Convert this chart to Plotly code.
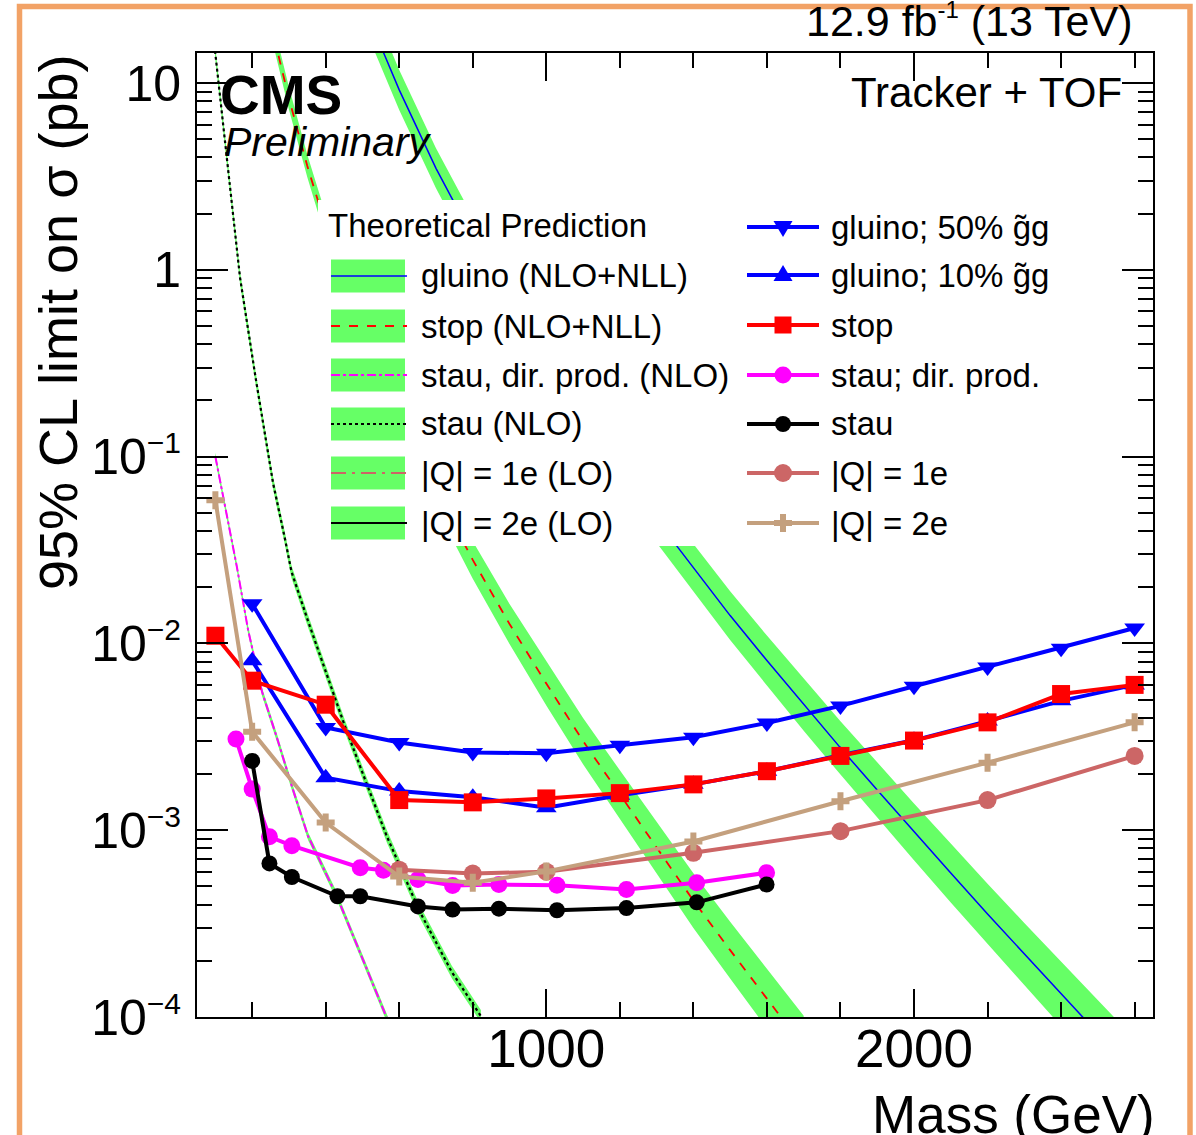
import plotly.graph_objects as go

# ---------------- data ----------------
# theory curves
gluino_th_m = [500, 600, 700, 800, 900, 1000, 1100, 1200, 1300, 1400, 1500, 1600, 1700,
               1800, 1900, 2000, 2100, 2200, 2300, 2400, 2500, 2600]
gluino_th_xs = [27.0, 9.2, 3.5, 1.49, 0.68, 0.325, 0.163, 0.0856, 0.046, 0.0253, 0.0141,
                0.0081, 0.0047, 0.00276, 0.00164, 0.00098, 0.00059, 0.000356, 0.000217,
                0.000133, 0.0000815, 0.00005]
gluino_th_unc = [0.28, 0.28, 0.28, 0.29, 0.29, 0.30, 0.31, 0.32, 0.33, 0.34, 0.35, 0.36,
                 0.38, 0.39, 0.41, 0.42, 0.44, 0.45, 0.47, 0.49, 0.51, 0.53]

stop_th_m = [200, 250, 300, 350, 400, 450, 500, 600, 700, 800, 900, 1000, 1100, 1200,
             1300, 1400, 1500, 1600, 1700]
stop_th_xs = [64.0, 21.0, 8.3, 3.6, 1.72, 0.90, 0.50, 0.172, 0.066, 0.028, 0.0127, 0.0061,
              0.0030, 0.00155, 0.00080, 0.00042, 0.000228, 0.000125, 0.000069]
stop_th_unc = [0.14, 0.14, 0.15, 0.15, 0.16, 0.17, 0.18, 0.20, 0.23, 0.26, 0.28, 0.31, 0.33,
               0.35, 0.38, 0.40, 0.42, 0.45, 0.47]

staudir_th_m = [100, 130, 158, 189, 227, 268, 308, 352, 431, 496, 561, 600]
staudir_th_xs = [0.100, 0.051, 0.026, 0.0118, 0.0055, 0.0031, 0.00172, 0.00093, 0.00044,
                 0.000215, 0.000105, 0.000068]
staudir_th_unc = [0.05] * 12

stau_th_m = [99, 118, 140, 167, 210, 257, 289, 307, 353, 407, 452, 507, 566, 656, 743, 822]
stau_th_xs = [14.9, 6.8, 2.8, 0.91, 0.26, 0.072, 0.0365, 0.0242, 0.0130, 0.00645, 0.00362,
              0.00187, 0.00093, 0.000366, 0.000174, 0.000101]
stau_th_unc = [0.08] * 16

# observed limits
gluino50_m = [200, 400, 600, 800, 1000, 1200, 1400, 1600, 1800, 2000, 2200, 2400, 2600]
gluino50_lim = [0.0163, 0.00355, 0.00295, 0.00261, 0.00258, 0.00285, 0.00315, 0.00375,
                0.00463, 0.0059, 0.00747, 0.00944, 0.0121]

gluino10_m = [200, 400, 600, 800, 1000, 1200, 1400, 1600, 1800, 2000, 2200, 2400, 2600]
gluino10_lim = [0.00809, 0.00191, 0.00162, 0.00150, 0.00132, 0.00154, 0.00176, 0.00207,
                0.00252, 0.00303, 0.00384, 0.00493, 0.0060]

stop_m = [100, 200, 400, 600, 800, 1000, 1200, 1400, 1600, 1800, 2000, 2200, 2400, 2600]
stop_lim = [0.0110, 0.00632, 0.00470, 0.00145, 0.00141, 0.00148, 0.00158, 0.00176, 0.00207,
            0.00250, 0.00302, 0.00378, 0.00536, 0.0060]

staudir_m = [156, 200, 247, 308, 494, 557, 651, 745, 871, 1029, 1218, 1409, 1599]
staudir_lim = [0.00308, 0.00166, 0.000922, 0.000827, 0.000630, 0.000611, 0.000545,
               0.000506, 0.000512, 0.000508, 0.000481, 0.000523, 0.000592]

stau_m = [200, 247, 308, 432, 494, 651, 745, 871, 1029, 1218, 1409, 1599]
stau_lim = [0.00235, 0.000664, 0.000562, 0.000443, 0.000443, 0.000391, 0.000376, 0.000380,
            0.000373, 0.000383, 0.000411, 0.000512]

q1_m = [600, 800, 1000, 1400, 1800, 2200, 2600]
q1_lim = [0.000615, 0.000586, 0.000600, 0.000757, 0.000989, 0.00145, 0.00250]

q2_m = [100, 200, 400, 600, 800, 1000, 1400, 1800, 2200, 2600]
q2_lim = [0.0585, 0.00337, 0.00110, 0.000565, 0.000523, 0.000602, 0.000871, 0.00143,
          0.00230, 0.00378]

x_major = [1000, 2000]
x_minor = [200, 400, 600, 800, 1200, 1400, 1600, 1800, 2200, 2400, 2600]
y_major = [1e-4, 1e-3, 1e-2, 1e-1, 1, 10]
y_labels = ["10<sup><span style='font-size:30px'>\u22124</span></sup>",
            "10<sup><span style='font-size:30px'>\u22123</span></sup>",
            "10<sup><span style='font-size:30px'>\u22122</span></sup>",
            "10<sup><span style='font-size:30px'>\u22121</span></sup>",
            "1", "10"]

# ---------------- styling ----------------
FONT = "Liberation Sans, Arial, Helvetica, sans-serif"
GREEN = "#66FF66"
BLUE = "#0000FF"
RED = "#FF0000"
MAGENTA = "#FF00FF"
ROSE = "#CC6666"
TAN = "#C4A07E"
ORANGE = "#F2A266"

W, H = 1196, 1135
L, R, T, B = 197, 1153, 53, 1017


def px(x):
    return (x - L) / (R - L)


def py(y):
    return (B - y) / (B - T)


fig = go.Figure()


def add_theory(m, xs, unc, color, dash, width):
    up = [v * (1 + u) for v, u in zip(xs, unc)]
    dn = [v / (1 + u) for v, u in zip(xs, unc)]
    fig.add_trace(go.Scatter(x=m, y=dn, mode="lines", line=dict(width=0, color=GREEN),
                             showlegend=False, hoverinfo="skip"))
    fig.add_trace(go.Scatter(x=m, y=up, mode="lines", line=dict(width=0, color=GREEN),
                             fill="tonexty", fillcolor=GREEN, showlegend=False,
                             hoverinfo="skip"))
    fig.add_trace(go.Scatter(x=m, y=xs, mode="lines",
                             line=dict(color=color, width=width, dash=dash),
                             showlegend=False))


add_theory(gluino_th_m, gluino_th_xs, gluino_th_unc, BLUE, "solid", 1.5)
add_theory(stop_th_m, stop_th_xs, stop_th_unc, RED, "dash", 1.8)
add_theory(staudir_th_m, staudir_th_xs, staudir_th_unc, MAGENTA, "dashdot", 2)
add_theory(stau_th_m, stau_th_xs, stau_th_unc, "black", "dot", 2.2)


def add_limit(m, lim, color, symbol, size):
    fig.add_trace(go.Scatter(x=m, y=lim, mode="lines+markers",
                             line=dict(color=color, width=4),
                             marker=dict(symbol=symbol, size=size, color=color,
                                         line=dict(width=0)),
                             showlegend=False))


add_limit(gluino50_m, gluino50_lim, BLUE, "triangle-down", 18)
add_limit(gluino10_m, gluino10_lim, BLUE, "triangle-up", 18)
add_limit(stop_m, stop_lim, RED, "square", 18)
add_limit(staudir_m, staudir_lim, MAGENTA, "circle", 17)
add_limit(stau_m, stau_lim, "black", "circle", 16)
add_limit(q1_m, q1_lim, ROSE, "circle", 18)
add_limit(q2_m, q2_lim, TAN, "cross", 15)

# ---------------- axes ----------------
fig.update_xaxes(type="linear", range=[50, 2650], tickmode="array", tickvals=x_major,
                 ticktext=[str(v) for v in x_major], ticks="inside", ticklen=28,
                 tickwidth=2, tickcolor="black", showline=True, linewidth=2,
                 linecolor="black", mirror="allticks", showgrid=False, zeroline=False,
                 tickfont=dict(family=FONT, size=53, color="black"),
                 ticklabelstandoff=-16,
                 minor=dict(tickmode="array", tickvals=x_minor, ticks="inside",
                            ticklen=15, tickwidth=2, tickcolor="black", showgrid=False))

y_minor = [k * 10 ** e for e in range(-4, 2) for k in range(2, 10)]
fig.update_yaxes(type="log", range=[-4, 1.1614], tickmode="array", tickvals=y_major,
                 ticktext=y_labels, ticks="inside", ticklen=31, tickwidth=2,
                 tickcolor="black", showline=True, linewidth=2, linecolor="black",
                 mirror="allticks", showgrid=False, zeroline=False,
                 tickfont=dict(family=FONT, size=50, color="black"),
                 ticklabelstandoff=4,
                 minor=dict(tickmode="array", tickvals=y_minor, ticks="inside",
                            ticklen=15, tickwidth=2, tickcolor="black", showgrid=False))

# ---------------- legend (drawn manually, ROOT style) ----------------
shapes = []
shapes.append(dict(type="rect", xref="paper", yref="paper", x0=px(318), x1=px(1075),
                   y0=py(546), y1=py(200), fillcolor="white", line=dict(width=0),
                   layer="above"))

left_rows = [276, 326, 375, 424, 473, 523]
left_labels = ["gluino (NLO+NLL)", "stop (NLO+NLL)", "stau, dir. prod. (NLO)",
               "stau (NLO)", "|Q| = 1e (LO)", "|Q| = 2e (LO)"]
left_styles = [(BLUE, "solid", 1.5), (RED, "dash", 2), (MAGENTA, "dashdot", 2),
               ("black", "dot", 2), (ROSE, "longdashdot", 2), ("black", "solid", 2)]
for yc, (col, dsh, wd) in zip(left_rows, left_styles):
    shapes.append(dict(type="rect", xref="paper", yref="paper", x0=px(331), x1=px(405),
                       y0=py(yc + 16.5), y1=py(yc - 16.5), fillcolor=GREEN,
                       line=dict(width=0), layer="above"))
    shapes.append(dict(type="line", xref="paper", yref="paper", x0=px(331), x1=px(407),
                       y0=py(yc), y1=py(yc), line=dict(color=col, width=wd, dash=dsh),
                       layer="above"))

right_rows = [227, 275, 325, 375, 424, 473, 523]
right_labels = ["gluino; 50% g\u0303g", "gluino; 10% g\u0303g", "stop",
                "stau; dir. prod.", "stau", "|Q| = 1e", "|Q| = 2e"]
right_cols = [BLUE, BLUE, RED, MAGENTA, "black", ROSE, TAN]
marker_paths = [
    ("path", "M -9.5,6 L 9.5,6 L 0,-10 Z"),
    ("path", "M -9.5,-6 L 9.5,-6 L 0,10 Z"),
    ("rect", 8.5),
    ("circle", 8.5),
    ("circle", 8),
    ("circle", 9),
    ("path", "M -3,9 L 3,9 L 3,3 L 9,3 L 9,-3 L 3,-3 L 3,-9 L -3,-9 "
             "L -3,-3 L -9,-3 L -9,3 L -3,3 Z"),
]
for yc, col, mk in zip(right_rows, right_cols, marker_paths):
    shapes.append(dict(type="line", xref="paper", yref="paper", x0=px(747), x1=px(819),
                       y0=py(yc), y1=py(yc), line=dict(color=col, width=4),
                       layer="above"))
    base = dict(xref="paper", yref="paper", xsizemode="pixel", ysizemode="pixel",
                xanchor=px(783), yanchor=py(yc), fillcolor=col, line=dict(width=0),
                layer="above")
    if mk[0] == "path":
        shapes.append(dict(type="path", path=mk[1], **base))
    else:
        r = mk[1]
        shapes.append(dict(type=mk[0], x0=-r, x1=r, y0=-r, y1=r, **base))

# orange outer frame of the reference image
shapes.append(dict(type="rect", xref="paper", yref="paper", x0=px(19.5), x1=px(1190),
                   y0=py(1160), y1=py(6.5), line=dict(color=ORANGE, width=5.5),
                   fillcolor="rgba(0,0,0,0)", layer="above"))

annotations = []


def txt(text, x, y, size, xanchor="left", yanchor="middle", **kw):
    annotations.append(dict(text=text, x=px(x), y=py(y), xref="paper", yref="paper",
                            showarrow=False, xanchor=xanchor, yanchor=yanchor,
                            borderpad=0, font=dict(family=FONT, size=size, color="black"),
                            **kw))


txt("Theoretical Prediction", 327, 225, 33)
for yc, lab in zip(left_rows, left_labels):
    txt(lab, 420, yc, 33)
for yc, lab in zip(right_rows, right_labels):
    txt(lab, 830, yc, 33)

txt("12.9 fb<sup><span style='font-size:24px'>-1</span></sup> (13 TeV)", 1134, 21, 43,
    xanchor="right")
txt("Tracker + TOF", 1123, 93, 42, xanchor="right")
txt("<b>CMS</b>", 219, 95, 55)
txt("<i>Preliminary</i>", 223, 142, 41)
txt("Mass (GeV)", 1156, 1114, 53, xanchor="right")
txt("95% CL limit on \u03c3 (pb)", 58, 322, 54, xanchor="center", textangle=-90)

fig.update_layout(width=W, height=H, autosize=False,
                  margin=dict(l=L, r=W - R, t=T, b=H - B, pad=0),
                  paper_bgcolor="white", plot_bgcolor="white",
                  showlegend=False, shapes=shapes, annotations=annotations,
                  font=dict(family=FONT, color="black"))

fig.write_html("out.html",
               config={"displayModeBar": False, "staticPlot": True},
               post_script="document.body.style.margin='0px';"
                           "document.body.style.overflow='hidden';")
